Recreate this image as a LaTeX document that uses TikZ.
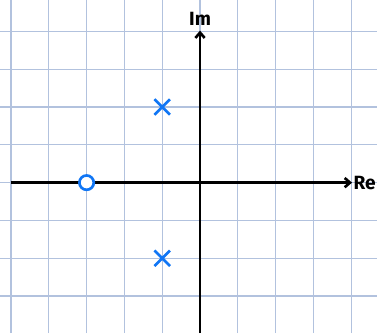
\documentclass[tikz,border=0pt]{standalone}
\usepackage{fontspec}
\setsansfont{Fira Sans}
\usepackage{tikz}
\usetikzlibrary{arrows.meta,shapes.misc,positioning}
\definecolor{paperline}{RGB}{178,194,222}
\definecolor{markblue}{RGB}{16,118,245}

\begin{document}
\begin{tikzpicture}[
    grid/.style={draw=paperline, line width=0.9pt},
    axis/.style={-{Straight Barb[length=4pt,width=7pt]}, line width=2pt, black},
    pole/.style={cross out, draw=markblue, line width=2pt, minimum size=0.34cm, inner sep=0pt},
    zero/.style={circle, draw=markblue, line width=2pt, minimum size=0.38cm, inner sep=0pt},
    lbl/.style={font=\sffamily\bfseries\Large, inner sep=1pt}
]
    % page frame
    \useasboundingbox (-5.29,-3.98) rectangle (4.68,4.83);
    \fill[white] (-5.29,-3.98) rectangle (4.68,4.83);

    % squared paper
    \draw[grid] (-5.29,-3.98) grid (4.68,4.83);

    % axes
    \coordinate (xl) at (-5,0);
    \coordinate (xr) at (4.02,0);
    \coordinate (yb) at (0,-3.98);
    \coordinate (yt) at (0,4.02);
    \draw[axis] (xl) -- (xr);
    \draw[axis] (yb) -- (yt);
    \node[lbl, right=0pt of xr] (re) {Re};
    \node[lbl, above=3pt of yt] (im) {Im};

    % poles and zero
    \node[pole] (p1) at (-1,2) {};
    \node[pole] (p2) at (-1,-2) {};
    \node[zero, fill=white] (z1) at (-3,0) {};
\end{tikzpicture}
\end{document}
